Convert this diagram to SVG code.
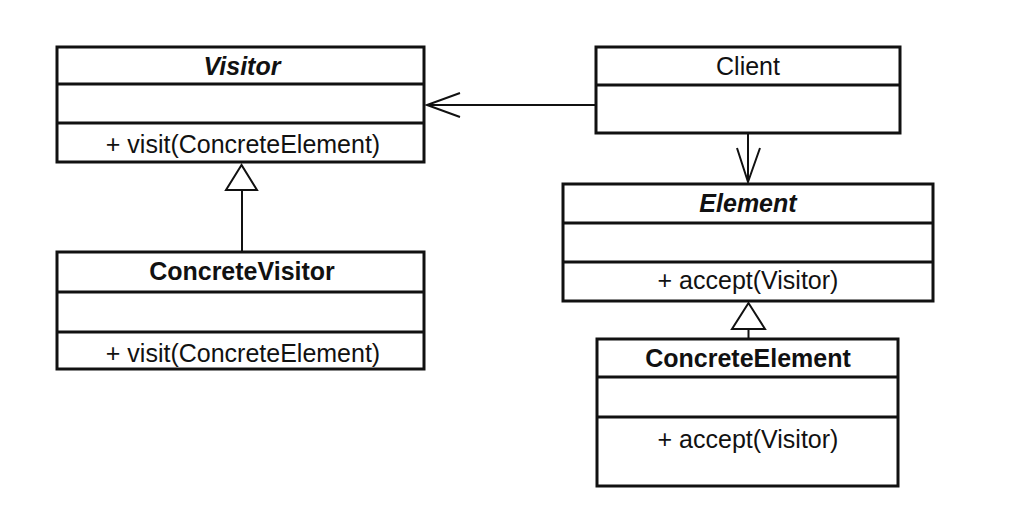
<svg xmlns="http://www.w3.org/2000/svg" width="1010" height="508" viewBox="0 0 1010 508">
<style>
.box{fill:#fff;stroke:#111;stroke-width:3}
.div{stroke:#111;stroke-width:3}
.t{font-family:"Liberation Sans",Arial,sans-serif;font-size:25px;fill:#111;text-anchor:middle}
.b{font-weight:bold}
.i{font-style:italic}
.c{fill:none;stroke:#111;stroke-width:2}
.tri{fill:#fff;stroke:#111;stroke-width:2}
</style>
<rect width="1010" height="508" fill="#fff"/>
<g id="connectors">
<line class="c" x1="596" y1="105" x2="427" y2="105"/>
<polyline class="c" points="460,93 427,105 460,117"/>
<line class="c" x1="748" y1="134" x2="748" y2="182"/>
<polyline class="c" points="737,148 748,182 760,148"/>
<line class="c" x1="242" y1="190" x2="242" y2="251"/>
<polygon class="tri" points="241.5,165 226,190 257,190"/>
<line class="c" x1="748.5" y1="329" x2="748.5" y2="339"/>
<polygon class="tri" points="748.5,303 732,329 765,329"/>
</g>
<g id="Visitor">
<rect class="box" x="57" y="47" width="367" height="115"/>
<line class="div" x1="57" y1="84" x2="424" y2="84"/>
<line class="div" x1="57" y1="123" x2="424" y2="123"/>
<text class="t b i" x="242" y="75">Visitor</text>
<text class="t" x="243" y="153">+ visit(ConcreteElement)</text>
</g>
<g id="ConcreteVisitor">
<rect class="box" x="57" y="252" width="367" height="117"/>
<line class="div" x1="57" y1="292" x2="424" y2="292"/>
<line class="div" x1="57" y1="332" x2="424" y2="332"/>
<text class="t b" x="242" y="280">ConcreteVisitor</text>
<text class="t" x="243" y="362">+ visit(ConcreteElement)</text>
</g>
<g id="Client">
<rect class="box" x="596" y="47" width="304" height="86"/>
<line class="div" x1="596" y1="85" x2="900" y2="85"/>
<text class="t" x="748" y="75">Client</text>
</g>
<g id="Element">
<rect class="box" x="563" y="184" width="370" height="117"/>
<line class="div" x1="563" y1="223" x2="933" y2="223"/>
<line class="div" x1="563" y1="262" x2="933" y2="262"/>
<text class="t b i" x="748" y="212">Element</text>
<text class="t" x="748" y="289">+ accept(Visitor)</text>
</g>
<g id="ConcreteElement">
<rect class="box" x="597" y="339" width="301" height="147"/>
<line class="div" x1="597" y1="377" x2="898" y2="377"/>
<line class="div" x1="597" y1="417" x2="898" y2="417"/>
<text class="t b" x="748" y="367">ConcreteElement</text>
<text class="t" x="748" y="448">+ accept(Visitor)</text>
</g>
</svg>
